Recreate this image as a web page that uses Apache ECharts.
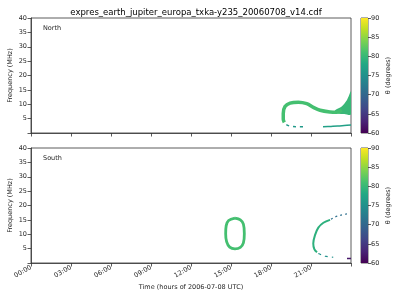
<!DOCTYPE html>
<html><head><meta charset="utf-8">
<script src="https://cdn.jsdelivr.net/npm/echarts@6/dist/echarts.min.js"></script>
<style>html,body{margin:0;padding:0;background:#fff}#c{width:400px;height:300px}</style>
</head><body><div id="c"></div>
<script>
// ---- data (hours of day, MHz, theta degrees) ----
const titleText = 'expres_earth_jupiter_europa_txka-y235_20060708_v14.cdf';
const xTickHours = [0, 3, 6, 9, 12, 15, 18, 21, 24];
const yTicks = [5, 10, 15, 20, 25, 30, 35, 40];
const cbTicks = [60, 65, 70, 75, 80, 85, 90];

// North hemisphere tracks
const nLoopTime = [23.3, 22.93, 22.43, 21.68, 21.18, 20.68, 20.05, 19.43, 19.05, 18.92, 18.92, 19.0];
const nLoopFreq = [8.0, 7.2, 7.3, 7.9, 8.9, 10.2, 10.7, 10.4, 9.2, 6.8, 4.8, 3.7];
const nLoopTheta = 81;
const nLowDashTime = [19.15, 19.5, 20.0, 20.7];
const nLowDashFreq = [2.9, 2.3, 2.2, 2.2];
const nLowDashTheta = 76;
const nLowBandTime = [21.9, 22.5, 23.0, 23.5, 24.0];
const nLowBandFreq = [2.2, 2.3, 2.4, 2.6, 2.8];
const nLowBandTheta = 77;
const nWedgeTime = [22.8, 23.3, 23.7, 24.0, 24.0, 23.5, 23.0];
const nWedgeFreq = [7.8, 9.2, 11.5, 14.5, 6.4, 6.6, 6.8];
const nWedgeTheta = 80;

// South hemisphere tracks
const sRingTime = [15.3, 14.82, 14.64, 14.6, 14.67, 14.9, 15.3, 15.7, 15.93, 16.0, 15.93, 15.7, 15.3];
const sRingFreq = [15.6, 14.8, 13.0, 10.2, 7.4, 5.5, 4.9, 5.4, 7.0, 10.2, 13.5, 15.0, 15.6];
const sRingTheta = 81;
const sArcTime = [21.45, 21.25, 21.17, 21.3, 21.55, 21.93, 22.43];
const sArcFreq = [3.7, 4.8, 6.8, 9.7, 12.3, 14.0, 15.0];
const sArcTheta = 79;
const sArcTopTime = [22.5, 22.8, 23.2, 23.7];
const sArcTopFreq = [15.2, 16.0, 16.6, 17.1];
const sArcTopTheta = 71;
const sArcLowTime = [21.55, 22.05, 22.67];
const sArcLowFreq = [3.3, 2.4, 2.0];
const sArcLowTheta = 75;
const sEndTime = [23.7, 24.0];
const sEndFreq = [1.6, 1.6];
const sEndTheta = 62;

// ---- helpers ----
const VIR = ['#440154','#482475','#414487','#355f8d','#2a788e','#21918c','#22a884','#44bf70','#7ad151','#bddf26','#fde725'];
function hex(c){return [parseInt(c.slice(1,3),16),parseInt(c.slice(3,5),16),parseInt(c.slice(5,7),16)];}
function viridis(theta){
  let u = Math.max(0, Math.min(1, (theta - 60) / 30)) * 10;
  let i = Math.min(9, Math.floor(u)), f = u - i;
  let a = hex(VIR[i]), b = hex(VIR[i+1]);
  return 'rgb(' + a.map((v,k)=>Math.round(v + (b[k]-v)*f)).join(',') + ')';
}
function zip(t, f){ return t.map((v,i)=>[v, f[i]]); }
const FONT = 'DejaVu Sans';
const TXT = '#262626';

function lineS(idx, t, f, theta, width, type){
  return {type:'line', xAxisIndex:idx, yAxisIndex:idx, data:zip(t,f), smooth:0.35,
    showSymbol:false, symbol:'none', silent:true, clip:true,
    lineStyle:{color:viridis(theta), width:width, type:type||'solid', cap:'butt'}};
}
function polyS(idx, t, f, theta){
  return {type:'custom', xAxisIndex:idx, yAxisIndex:idx, data:zip(t,f), clip:true, silent:true,
    renderItem:function(params, api){
      if (params.dataIndex !== 0) return null;
      const pts = t.map((v,i)=>api.coord([v, f[i]]));
      return {type:'polygon', shape:{points:pts, smooth:0.25}, style:{fill:viridis(theta)}};
    }};
}

const gBase = {show:true, borderColor:'#333', borderWidth:0.8, containLabel:false, outerBoundsMode:'none'};
const grids = [
  Object.assign({left:31, top:18, width:320, height:115}, gBase),
  Object.assign({left:31, top:148, width:320, height:115}, gBase),
  Object.assign({left:361, top:18, width:7, height:115}, gBase),
  Object.assign({left:361, top:148, width:7, height:115}, gBase)
];
function timeAxis(gi, showLabels){
  return {type:'value', gridIndex:gi, min:0, max:24, interval:3,
    axisLine:{show:true, lineStyle:{color:'#333', width:0.8}},
    axisTick:{show:true, length:3.5, lineStyle:{color:'#333', width:0.8}},
    splitLine:{show:false},
    axisLabel:{show:showLabels, rotate:30, fontSize:6.5, fontFamily:FONT, color:TXT, margin:4,
      formatter:function(v){ if (v>=24) return ''; return (v<10?'0':'')+v+':00'; }},
    name: showLabels ? 'Time (hours of 2006-07-08 UTC)' : '', nameLocation:'middle', nameGap:21,
    nameMoveOverlap:false,
    nameTextStyle:{fontSize:6.5, fontFamily:FONT, color:TXT}};
}
function freqAxis(gi){
  return {type:'value', gridIndex:gi, min:0, max:40, interval:5,
    axisLine:{show:true, lineStyle:{color:'#333', width:0.8}},
    axisTick:{show:true, length:3.5, lineStyle:{color:'#333', width:0.8}},
    splitLine:{show:false},
    axisLabel:{fontSize:6.5, fontFamily:FONT, color:TXT, margin:4,
      formatter:function(v){ return yTicks.indexOf(v)>=0 ? String(v) : ''; }},
    name:'Frequency (MHz)', nameLocation:'middle', nameGap:17, nameRotate:90,
    nameMoveOverlap:false,
    nameTextStyle:{fontSize:6.5, fontFamily:FONT, color:TXT}};
}
function cbXAxis(gi){
  return {type:'category', gridIndex:gi, data:['c'], show:false, boundaryGap:true};
}
function cbYAxis(gi){
  return {type:'value', gridIndex:gi, min:60, max:90, interval:5, position:'right',
    axisLine:{show:false}, splitLine:{show:false},
    axisTick:{show:true, length:3, lineStyle:{color:'#333', width:0.8}},
    axisLabel:{fontSize:6.5, fontFamily:FONT, color:TXT, margin:3,
      formatter:function(v){ return cbTicks.indexOf(v)>=0 ? String(v) : ''; }},
    name:'θ (degrees)', nameLocation:'middle', nameGap:17, nameRotate:90,
    nameTextStyle:{fontSize:6.5, fontFamily:FONT, color:TXT}};
}
const gradStops = VIR.map((c,i)=>({offset:1 - i/10, color:c}));
function cbSeries(gi){
  return {type:'bar', xAxisIndex:gi, yAxisIndex:gi, data:[90], barWidth:'100%', silent:true,
    itemStyle:{color:{type:'linear', x:0, y:0, x2:0, y2:1, colorStops:gradStops}}};
}

const option = {
  animation:false,
  backgroundColor:'#fff',
  title:{text:titleText, left:191, top:3, textAlign:'center',
    textStyle:{fontSize:8.5, fontWeight:'normal', fontFamily:FONT, color:'#000'}},
  grid:grids,
  xAxis:[timeAxis(0,false), timeAxis(1,true), cbXAxis(2), cbXAxis(3)],
  yAxis:[freqAxis(0), freqAxis(1), cbYAxis(2), cbYAxis(3)],
  graphic:[
    {type:'text', left:43, top:25, style:{text:'North', fontSize:6.5, fontFamily:FONT, fill:TXT}},
    {type:'text', left:43, top:155, style:{text:'South', fontSize:6.5, fontFamily:FONT, fill:TXT}}
  ],
  series:[
    polyS(0, nWedgeTime, nWedgeFreq, nWedgeTheta),
    lineS(0, nLoopTime, nLoopFreq, nLoopTheta, 3.5),
    lineS(0, nLowDashTime, nLowDashFreq, nLowDashTheta, 1.5, [3,4]),
    lineS(0, nLowBandTime, nLowBandFreq, nLowBandTheta, 1.5),
    lineS(1, sRingTime, sRingFreq, sRingTheta, 2.8),
    lineS(1, sArcTime, sArcFreq, sArcTheta, 2),
    lineS(1, sArcTopTime, sArcTopFreq, sArcTopTheta, 1.2, [2,3]),
    lineS(1, sArcLowTime, sArcLowFreq, sArcLowTheta, 1.2, [3,4]),
    lineS(1, sEndTime, sEndFreq, sEndTheta, 1.5),
    cbSeries(2), cbSeries(3)
  ]
};
const chart = echarts.init(document.getElementById('c'), null, {renderer:'canvas'});
chart.setOption(option);
</script></body></html>
